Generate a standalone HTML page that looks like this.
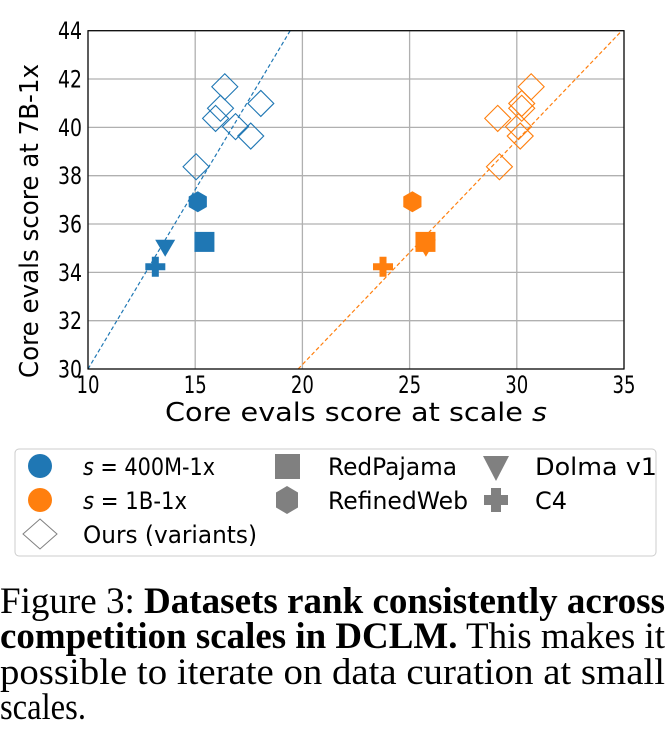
<!DOCTYPE html>
<html><head><meta charset="utf-8"><style>
html,body{margin:0;padding:0;background:#fff;width:669px;height:747px;overflow:hidden}
svg{display:block}
text{font-family:"DejaVu Sans","Liberation Sans",sans-serif}
.cap{font-family:"Liberation Serif",serif;font-size:37px}
</style></head><body>
<svg id="chart" width="669" height="747" viewBox="0 0 669 747">
<g id="grid"></g>
<g id="lines"></g>
<g id="marks"></g>
<rect x="88" y="30.7" width="536" height="338.3" fill="none" stroke="#000" stroke-width="1.2"/>
<g id="ticks" font-size="24"></g>
<text x="356" y="421" font-size="26" text-anchor="middle" textLength="382" lengthAdjust="spacingAndGlyphs">Core evals score at scale <tspan font-style="italic">s</tspan></text>
<text transform="translate(38,221) rotate(-90)" font-size="26" text-anchor="middle" textLength="314" lengthAdjust="spacingAndGlyphs">Core evals score at 7B-1x</text>
<g>
<rect x="15" y="449" width="641" height="107" rx="4" fill="#fff" stroke="#ccc" stroke-width="1"/>
<circle cx="40" cy="466" r="12" fill="#1f77b4"/>
<circle cx="40" cy="500" r="12" fill="#ff7f0e"/>
<polygon points="40,519 57,534 40,549 23,534" fill="none" stroke="#808080" stroke-width="1"/>
<rect x="275" y="454" width="25" height="25" fill="#808080"/>
<polygon points="287,486 298,492.5 298,507.5 287,514 276,507.5 276,492.5" fill="#808080"/>
<polygon points="483,456 509,456 496,481" fill="#808080"/>
<path d="M491,488h10v7h7v10h-7v7h-10v-7h-7v-10h7z" fill="#808080"/>
<g font-size="24">
<text x="83" y="475" textLength="132" lengthAdjust="spacingAndGlyphs"><tspan font-style="italic">s</tspan> = 400M-1x</text>
<text x="83" y="509" textLength="104" lengthAdjust="spacingAndGlyphs"><tspan font-style="italic">s</tspan> = 1B-1x</text>
<text x="83" y="543" textLength="174" lengthAdjust="spacingAndGlyphs">Ours (variants)</text>
<text x="328" y="475" textLength="129" lengthAdjust="spacingAndGlyphs">RedPajama</text>
<text x="328" y="509" textLength="140" lengthAdjust="spacingAndGlyphs">RefinedWeb</text>
<text x="535" y="475" textLength="122" lengthAdjust="spacingAndGlyphs">Dolma v1</text>
<text x="535" y="509" textLength="32" lengthAdjust="spacingAndGlyphs">C4</text>
</g></g>
<g>
<text class="cap" x="0" y="613" textLength="665" lengthAdjust="spacingAndGlyphs">Figure 3: <tspan font-weight="bold">Datasets rank consistently across</tspan></text>
<text class="cap" x="0" y="648" textLength="665" lengthAdjust="spacingAndGlyphs"><tspan font-weight="bold">competition scales in DCLM.</tspan> This makes it</text>
<text class="cap" x="0" y="684" textLength="665" lengthAdjust="spacingAndGlyphs">possible to iterate on data curation at small</text>
<text class="cap" x="0" y="719" textLength="86" lengthAdjust="spacingAndGlyphs">scales.</text>
</g>
</svg>
<script>
const NS="http://www.w3.org/2000/svg";
const xTicks=[10,15,20,25,30,35];
const yTicks=[30,32,34,36,38,40,42,44];
const datasets=["RedPajama","RefinedWeb","Dolma v1","C4"];
const blueBaselineX=[15.43,15.12,13.6,13.14];
const baselineY=[35.26,36.92,35.1,34.23];
const orangeBaselineX=[25.74,25.13,25.76,23.76];
const oursY=[41.68,40.99,40.79,40.37,40.03,39.64,38.37];
const blueOursX=[16.38,18.06,16.18,15.95,16.88,17.59,15.04];
const orangeOursX=[30.67,30.23,30.23,29.11,30.08,30.16,29.19];
const blueFit=[[10,30],[19.43,44]];
const orangeFit=[[19.8,30],[34.9,44]];
const X=v=>88+(v-10)*21.44, Y=v=>369-(v-30)*24.164;
function mk(tag,attrs,parent){const e=document.createElementNS(NS,tag);for(const k in attrs)e.setAttribute(k,attrs[k]);parent.appendChild(e);return e;}
const grid=document.getElementById('grid'),ticks=document.getElementById('ticks'),lines=document.getElementById('lines'),marks=document.getElementById('marks');
xTicks.forEach(t=>{const l=mk('line',{x1:X(t),x2:X(t),y1:30.7,y2:369,stroke:'#b0b0b0','stroke-width':1.3},grid);


const tx=mk('text',{x:X(t),y:393,'text-anchor':'middle',textLength:23,lengthAdjust:'spacingAndGlyphs'},ticks);tx.textContent=t;

});
yTicks.forEach(t=>{const l=mk('line',{x1:88,x2:624,y1:Y(t),y2:Y(t),stroke:'#b0b0b0','stroke-width':1.3},grid);


const tx=mk('text',{x:82,y:Y(t)+8.5,'text-anchor':'end',textLength:24,lengthAdjust:'spacingAndGlyphs'},ticks);tx.textContent=t;

});
[[blueFit,'#1f77b4','blue-fit-line'],[orangeFit,'#ff7f0e','orange-fit-line']].forEach(([f,c,n])=>{
const l=mk('line',{x1:X(f[0][0]),y1:Y(f[0][1]),x2:X(f[1][0]),y2:Y(f[1][1]),stroke:c,'stroke-width':1.2,'stroke-dasharray':'4,2.5'},lines);

});
function marker(i,cx,cy,c,parent){
if(i===0)return mk('rect',{x:cx-10,y:cy-10,width:20,height:20,fill:c},parent);
if(i===1){const p=[];for(let k=0;k<6;k++){const a=Math.PI/3*k-Math.PI/2;p.push((cx+10.5*Math.cos(a))+','+(cy+10.5*Math.sin(a)));}return mk('polygon',{points:p.join(' '),fill:c},parent);}
if(i===2)return mk('polygon',{points:`${cx-10},${cy-6} ${cx+10},${cy-6} ${cx},${cy+11}`,fill:c},parent);
return mk('path',{d:`M${cx-3.5},${cy-10}h7v6.5h6.5v7h-6.5v6.5h-7v-6.5h-6.5v-7h6.5z`,fill:c},parent);}
[[blueOursX,'#1f77b4','blue'],[orangeOursX,'#ff7f0e','orange']].forEach(([xs,c,n])=>{
xs.forEach((x,i)=>{const cx=X(x),cy=Y(oursY[i]);
const d=mk('polygon',{points:`${cx},${cy-13} ${cx+13},${cy} ${cx},${cy+13} ${cx-13},${cy}`,fill:'none',stroke:c,'stroke-width':1.1},marks);

});});
[[orangeBaselineX,'#ff7f0e','orange'],[blueBaselineX,'#1f77b4','blue']].forEach(([xs,c,n])=>{
[2,0,1,3].forEach(i=>{const e=marker(i,X(xs[i]),Y(baselineY[i]),c,marks);

});});
</script>
</body></html>
